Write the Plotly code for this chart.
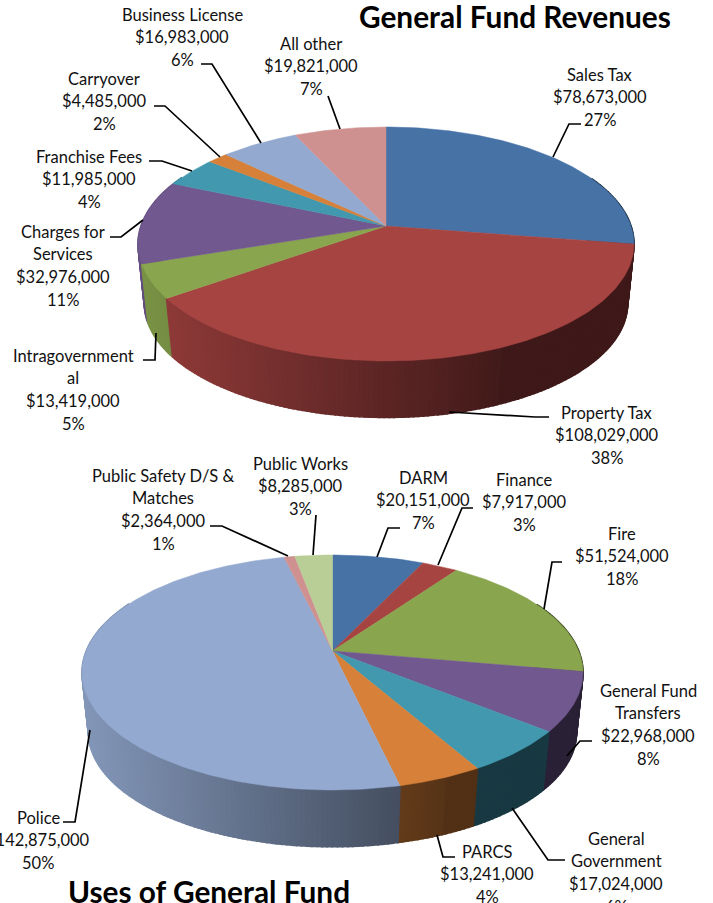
import math
import plotly.graph_objects as go

# ---- data ----
rev_names = ["Sales Tax", "Property Tax", "Intragovernmental", "Charges for Services",
             "Franchise Fees", "Carryover", "Business License", "All other"]
rev_values = [78673000, 108029000, 13419000, 32976000, 11985000, 4485000, 16983000, 19821000]
rev_pct = [27, 38, 5, 11, 4, 2, 6, 7]

use_names = ["DARM", "Finance", "Fire", "General Fund Transfers", "General Government",
             "PARCS", "Police", "Public Safety D/S & Matches", "Public Works"]
use_values = [20151000, 7917000, 51524000, 22968000, 17024000, 13241000, 142875000, 2364000, 8285000]
use_pct = [7, 3, 18, 8, 6, 4, 50, 1, 3]

# ---- styles ----
COLORS = ["#4672a6", "#a64442", "#89a54e", "#71588f", "#4198af", "#d68039", "#93a9cf", "#cf9190", "#b9cd96"]

# label layout: wrapped name, centre x, y of first line
rev_layout = [
    (["Sales Tax"], 600, 74), (["Property Tax"], 607, 412), (["Intragovernment", "al"], 73, 355),
    (["Charges for", "Services"], 63, 231), (["Franchise Fees"], 89, 156), (["Carryover"], 104, 78),
    (["Business License"], 182, 14), (["All other"], 311, 43),
]
use_layout = [
    (["DARM"], 423, 477), (["Finance"], 524, 479), (["Fire"], 622, 533),
    (["General Fund", "Transfers"], 648, 690), (["General", "Government"], 616, 838),
    (["PARCS"], 487, 851), (["Police"], 38, 817), (["Public Safety D/S &", "Matches"], 163, 475),
    (["Public Works"], 300, 463),
]
rev_leaders = [
    [(581, 124), (569, 124), (553, 157)], [(449, 412), (535, 417), (549, 417)],
    [(143, 360), (155, 360), (156, 333)], [(110, 237), (121, 237), (143, 220)],
    [(149, 161), (162, 161), (192, 171)], [(154, 106), (165, 106), (220, 157)],
    [(201, 64), (212, 64), (261, 143)], [(328, 96), (340, 129)],
]
use_leaders = [
    [(400, 528), (388, 528), (377, 557)], [(473, 508), (462, 508), (438, 565)],
    [(562, 562), (552, 562), (544, 609)], [(592, 741), (580, 741), (567, 756)],
    [(512, 808), (548, 860), (565, 860)], [(437, 835), (443, 857), (455, 857)],
    [(90, 730), (75, 822), (63, 822)], [(210, 526), (222, 526), (288, 556)],
    [(316, 515), (313, 555)],
]

fig = go.Figure()


def shade(hex_c, f):
    r, g, b = int(hex_c[1:3], 16), int(hex_c[3:5], 16), int(hex_c[5:7], 16)
    return f"rgb({int(r*f)},{int(g*f)},{int(b*f)})"


def draw_pie(values, cx, cy, up, down, halfw, drop, bottom_scale):
    k = (down - up) / (down + up)
    A = down * (1 - k)
    B = halfw * math.sqrt(1 - k * k)

    def proj(theta, s=1.0, dy=0.0):
        u, v = math.sin(theta) * s, -math.cos(theta) * s
        d = 1 - k * v
        return cx + B * u / d, cy + dy + A * v / d

    total = sum(values)
    edges = [0.0]
    for val in values:
        edges.append(edges[-1] + val / total * 2 * math.pi)

    # side wall, far strips first; the top face covers the rear part of it
    strips = []
    for i in range(len(values)):
        a0, a1 = edges[i], edges[i + 1]
        n = max(1, int((a1 - a0) / math.radians(1.0)))
        for j in range(n):
            t0 = a0 + (a1 - a0) * j / n
            t1 = a0 + (a1 - a0) * (j + 1) / n
            mid = (t0 + t1) / 2
            if math.cos(mid) > 0.45:
                continue
            strips.append((-math.cos(mid), i, t0, t1))
    strips.sort(key=lambda s: s[0])
    for _, i, t0, t1 in strips:
        p = [proj(t0), proj(t1), proj(t1, bottom_scale, drop), proj(t0, bottom_scale, drop)]
        t = (sum(q[0] for q in p) / 4 - cx) / halfw
        f = 0.38 if t > 0.45 else 0.9 - 0.343 * (t + 1)
        col = shade(COLORS[i], f)
        fig.add_trace(go.Scatter(x=[q[0] for q in p] + [p[0][0]], y=[q[1] for q in p] + [p[0][1]],
                                 mode="lines", fill="toself", fillcolor=col,
                                 line=dict(color=col, width=1.6), hoverinfo="skip", showlegend=False))
    # top face
    for i in range(len(values)):
        a0, a1 = edges[i], edges[i + 1]
        n = max(2, int((a1 - a0) / math.radians(1)))
        pts = [proj(a0 + (a1 - a0) * j / n) for j in range(n + 1)]
        xs = [cx] + [q[0] for q in pts] + [cx]
        ys = [cy] + [q[1] for q in pts] + [cy]
        fig.add_trace(go.Scatter(x=xs, y=ys, mode="lines", fill="toself", fillcolor=COLORS[i],
                                 line=dict(color=COLORS[i], width=0.5), hoverinfo="skip", showlegend=False))


def draw_labels(values, pct, layout, leaders):
    for val, p, (lines, x, y), lead in zip(values, pct, layout, leaders):
        text = lines + [f"${val:,}", f"{p}%"]
        for i, line in enumerate(text):
            fig.add_annotation(xref="x", yref="paper", x=x, y=1 - (y + 0.6 + i * 22.8) / 903, text=line,
                               showarrow=False, xanchor="center", yanchor="middle",
                               font=dict(family="Lato", size=16.5, color="#111111"))
        fig.add_trace(go.Scatter(x=[q[0] for q in lead], y=[q[1] for q in lead], mode="lines",
                                 line=dict(color="black", width=1.7), hoverinfo="skip", showlegend=False))


draw_pie(rev_values, 386, 226, 99, 135, 248, 60.4, 0.975)
draw_pie(use_values, 332.5, 651, 96, 139, 250.5, 61, 0.975)
draw_labels(rev_values, rev_pct, rev_layout, rev_leaders)
draw_labels(use_values, use_pct, use_layout, use_leaders)

fig.add_annotation(x=515, y=16, text="<b>General Fund Revenues</b>", showarrow=False, xanchor="center",
                   yanchor="middle", font=dict(family="Lato", size=29.8, color="black"))
fig.add_annotation(x=209, y=891, text="<b>Uses of General Fund</b>", showarrow=False, xanchor="center",
                   yanchor="middle", font=dict(family="Lato", size=29.8, color="black"))

fig.update_layout(
    width=713, height=903, margin=dict(l=0, r=0, t=0, b=0),
    paper_bgcolor="white", plot_bgcolor="white", showlegend=False,
    xaxis=dict(range=[0, 713], visible=False, fixedrange=True),
    yaxis=dict(range=[903, 0], visible=False, fixedrange=True),
)
fig.write_html("out.html", config={"displayModeBar": False},
               post_script="document.body.style.margin='0';")
